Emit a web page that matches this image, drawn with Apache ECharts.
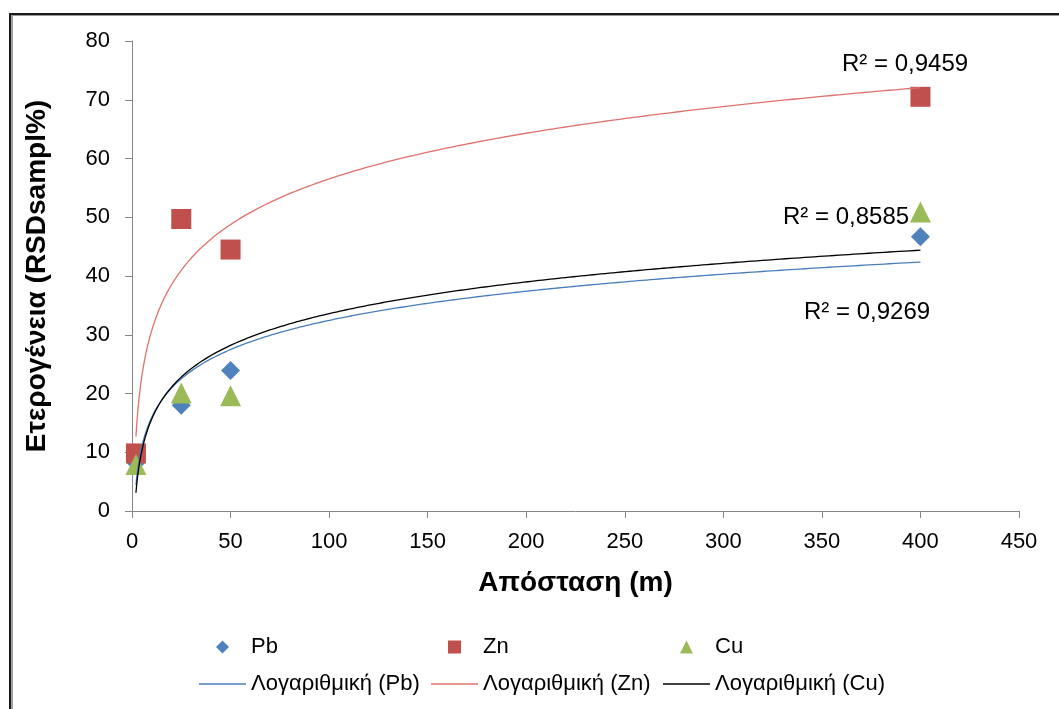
<!DOCTYPE html>
<html>
<head>
<meta charset="utf-8">
<script src="https://cdn.jsdelivr.net/npm/echarts@6/dist/echarts.min.js"></script>
<style>
  html, body { margin: 0; padding: 0; background: #fff; }
  #chart { width: 1059px; height: 709px; }
</style>
</head>
<body>
<div id="chart"></div>
<script>
// Sampling distances (m)
const distances = [2, 25, 50, 400];
// Heterogeneity RSDsampl% per element
const pbValues = [8.2, 18.0, 23.9, 46.7];
const znValues = [9.8, 49.7, 44.5, 70.5];
const cuValues = [7.9, 20.1, 19.6, 50.9];
// Series names
const pointNames = ['Pb', 'Zn', 'Cu'];
const trendNames = ['Λογαριθμική (Pb)', 'Λογαριθμική (Zn)', 'Λογαριθμική (Cu)'];
// R² labels of the logarithmic trendlines
const r2Zn = 'R² = 0,9459';
const r2Cu = 'R² = 0,8585';
const r2Pb = 'R² = 0,9269';

const FONT = '"Liberation Sans", Arial, sans-serif';

// Least squares fit y = a*ln(x) + b
function logFit(xs, ys) {
  const lx = xs.map(Math.log);
  const n = xs.length;
  const mx = lx.reduce((s, v) => s + v, 0) / n;
  const my = ys.reduce((s, v) => s + v, 0) / n;
  let sxy = 0, sxx = 0;
  for (let i = 0; i < n; i++) {
    sxy += (lx[i] - mx) * (ys[i] - my);
    sxx += (lx[i] - mx) * (lx[i] - mx);
  }
  const a = sxy / sxx;
  return { a: a, b: my - a * mx };
}

// Curve samples of the fitted trendline between the first and last distance
function trendPoints(xs, ys) {
  const f = logFit(xs, ys);
  const x0 = Math.min.apply(null, xs), x1 = Math.max.apply(null, xs);
  const pts = [];
  const N = 300;
  for (let i = 0; i <= N; i++) {
    const t = i / N;
    const x = x0 + (x1 - x0) * t * t;
    pts.push([x, f.a * Math.log(x) + f.b]);
  }
  return pts;
}

function pairs(xs, ys) { return xs.map((x, i) => [x, ys[i]]); }

// One legend block per entry so the columns line up
const symbolLegendLeft = [216, 448, 680];
const lineLegendLeft = [199, 431, 663];
const legends = [];
pointNames.forEach((n, i) => {
  legends.push({
    left: symbolLegendLeft[i], top: 636, padding: 0,
    itemWidth: 13, itemHeight: 13,
    textStyle: { fontFamily: FONT, fontSize: 22, color: '#000', padding: [0, 0, 0, 17] },
    data: [n]
  });
});
trendNames.forEach((n, i) => {
  legends.push({
    left: lineLegendLeft[i], top: 673, padding: 0,
    itemWidth: 47, itemHeight: 1.5, icon: 'rect',
    textStyle: { fontFamily: FONT, fontSize: 22, color: '#000' },
    data: [n]
  });
});

const chart = echarts.init(document.getElementById('chart'), null, { renderer: 'canvas' });

const option = {
  backgroundColor: '#ffffff',
  animation: false,
  grid: { left: 132, right: 40, top: 41, bottom: 198, containLabel: false },
  xAxis: {
    type: 'value', min: 0, max: 450, interval: 50,
    name: 'Απόσταση (m)', nameLocation: 'middle', nameGap: 58,
    nameTextStyle: { fontFamily: FONT, fontSize: 28, fontWeight: 'bold', color: '#000' },
    axisLine: { lineStyle: { color: '#868686', width: 1 } },
    axisTick: { show: true, length: 7, lineStyle: { color: '#868686' } },
    axisLabel: { fontFamily: FONT, fontSize: 22, color: '#000', margin: 20 },
    splitLine: { show: false }
  },
  yAxis: {
    type: 'value', min: 0, max: 80, interval: 10,
    name: 'Ετερογένεια (RSDsampl%)', nameLocation: 'middle', nameGap: 81, nameRotate: 90,
    nameTextStyle: { fontFamily: FONT, fontSize: 28, fontWeight: 'bold', color: '#000' },
    axisLine: { show: true, lineStyle: { color: '#868686', width: 1 } },
    axisTick: { show: true, length: 7, lineStyle: { color: '#868686' } },
    axisLabel: { fontFamily: FONT, fontSize: 22, color: '#000', margin: 22 },
    splitLine: { show: false }
  },
  legend: legends,
  series: [
    {
      name: 'Pb', type: 'scatter', symbol: 'diamond', symbolSize: [19, 19],
      itemStyle: { color: '#4F81BD', opacity: 1 }, data: pairs(distances, pbValues), z: 2
    },
    {
      name: 'Zn', type: 'scatter', symbol: 'rect', symbolSize: 20,
      itemStyle: { color: '#C0504D', opacity: 1 }, data: pairs(distances, znValues), z: 2
    },
    {
      name: 'Cu', type: 'scatter', symbol: 'triangle', symbolSize: 21,
      itemStyle: { color: '#9BBB59', opacity: 1 }, data: pairs(distances, cuValues), z: 3
    },
    {
      name: trendNames[0], type: 'line', showSymbol: false, symbol: 'none',
      lineStyle: { color: '#4A7EBB', width: 1.3 }, itemStyle: { color: '#4A7EBB' },
      data: trendPoints(distances, pbValues), z: 4
    },
    {
      name: trendNames[1], type: 'line', showSymbol: false, symbol: 'none',
      lineStyle: { color: '#E0716C', width: 1.3 }, itemStyle: { color: '#E0716C' },
      data: trendPoints(distances, znValues), z: 4
    },
    {
      name: trendNames[2], type: 'line', showSymbol: false, symbol: 'none',
      lineStyle: { color: '#000000', width: 1.3 }, itemStyle: { color: '#000000' },
      data: trendPoints(distances, cuValues), z: 4
    }
  ],
  graphic: [
    // frame edges
    { type: 'rect', left: 9, top: 13, shape: { width: 1050, height: 2 }, style: { fill: '#1a1a1a' }, silent: true },
    { type: 'rect', left: 9, top: 15, shape: { width: 1050, height: 1 }, style: { fill: '#9a9a9a' }, silent: true },
    { type: 'rect', left: 9, top: 13, shape: { width: 2, height: 696 }, style: { fill: '#1a1a1a' }, silent: true },
    { type: 'rect', left: 11, top: 15, shape: { width: 2, height: 694 }, style: { fill: '#a0a0a0' }, silent: true },
    // R² annotations
    { type: 'text', left: 842, top: 52, style: { text: r2Zn, font: '24px ' + FONT, fill: '#000' } },
    { type: 'text', left: 783, top: 205, style: { text: r2Cu, font: '24px ' + FONT, fill: '#000' } },
    { type: 'text', left: 804, top: 300, style: { text: r2Pb, font: '24px ' + FONT, fill: '#000' } }
  ]
};

chart.setOption(option);
</script>
</body>
</html>
